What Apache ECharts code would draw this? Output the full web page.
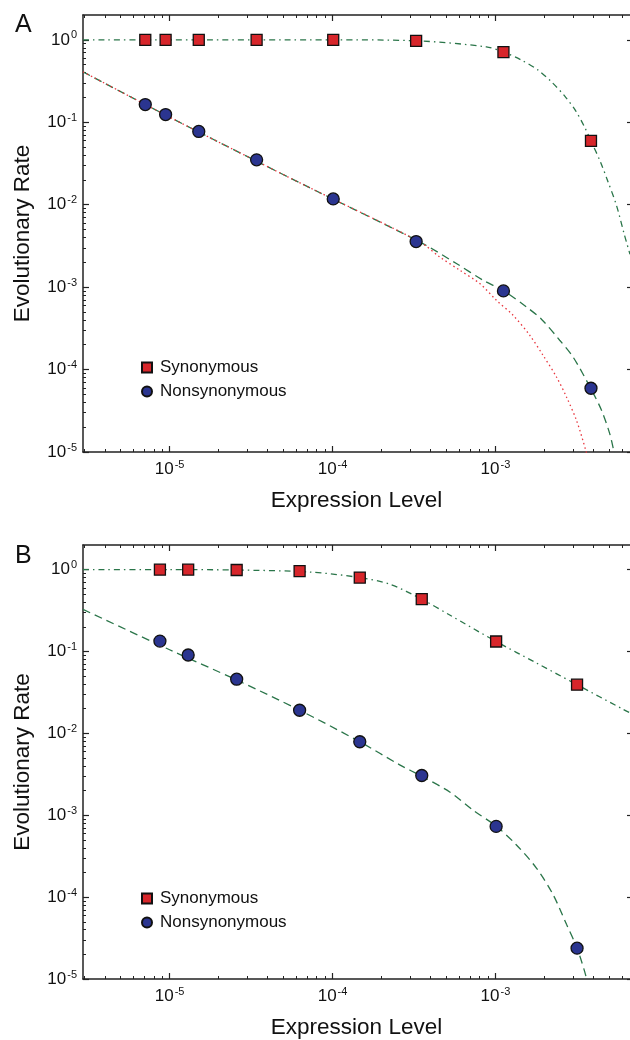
<!DOCTYPE html>
<html>
<head>
<meta charset="utf-8">
<script src="https://cdn.jsdelivr.net/npm/echarts@6/dist/echarts.min.js"></script>
<style>
html, body { margin: 0; padding: 0; background: #fff; }
#chart { width: 630px; height: 1040px; }
</style>
</head>
<body>
<div id="chart"></div>
<script>
// ---- panel A: measured points ----
var exprA = [7.09e-6, 9.45e-6, 1.51e-5, 3.42e-5, 1.01e-4, 3.26e-4, 1.12e-3, 3.86e-3];
var synRateA = [1.0, 1.0, 1.0, 1.0, 1.0, 0.973, 0.71, 0.0594];
var nonRateA = [0.164, 0.124, 0.0773, 0.035, 0.01175, 0.00357, 9.0e-4, 5.93e-5];

// panel A: fitted curves
var synFitExprA = [2.94e-6, 1e-5, 1e-4, 3.27e-4, 8.80e-4, 1.125e-3, 1.445e-3, 1.827e-3, 2.208e-3, 2.665e-3, 3.11e-3, 3.535e-3, 3.86e-3, 4.41e-3, 4.87e-3, 5.53e-3, 6.16e-3, 6.7e-3];
var synFitRateA = [1.0, 1.0, 1.0, 0.973, 0.822, 0.709, 0.567, 0.429, 0.309, 0.2074, 0.1375, 0.0865, 0.0595, 0.0331, 0.01983, 0.00986, 0.00447, 0.0025];
var nonFitExprA = [2.94e-6, 1e-5, 3.42e-5, 7.24e-5, 3.43e-4, 5.76e-4, 8.39e-4, 1.125e-3, 1.55e-3, 1.916e-3, 2.48e-3, 2.996e-3, 3.85e-3, 4.48e-3, 5.03e-3, 5.32e-3, 5.5e-3];
var nonFitRateA = [0.409, 0.1153, 0.0337, 0.01608, 3.54e-3, 1.934e-3, 1.213e-3, 9.0e-4, 5.75e-4, 4.08e-4, 2.27e-4, 1.42e-4, 5.88e-5, 3.21e-5, 1.67e-5, 1.05e-5, 8e-6];
var nonFit2ExprA = [2.94e-6, 1e-5, 3.42e-5, 7.24e-5, 3.43e-4, 4.55e-4, 6.04e-4, 8.01e-4, 1.014e-3, 1.283e-3, 1.624e-3, 1.96e-3, 2.37e-3, 2.73e-3, 3.145e-3, 3.585e-3, 3.7e-3];
var nonFit2RateA = [0.409, 0.1153, 0.0337, 0.01608, 3.54e-3, 2.325e-3, 1.603e-3, 1.106e-3, 6.93e-4, 4.56e-4, 2.61e-4, 1.49e-4, 8.13e-5, 4.65e-5, 2.42e-5, 1.05e-5, 8e-6];

// ---- panel B: measured points ----
var exprB = [8.72e-6, 1.30e-5, 2.58e-5, 6.28e-5, 1.47e-4, 3.53e-4, 1.01e-3, 3.17e-3];
var synRateB = [1.0, 1.0, 0.99, 0.96, 0.80, 0.436, 0.1325, 0.0393];
var nonRateB = [0.134, 0.0907, 0.0459, 0.01916, 0.0079, 0.00306, 7.31e-4, 2.38e-5];

// panel B: fitted curves
var synFitExprB = [2.94e-6, 1e-5, 2.58e-5, 7.24e-5, 1.47e-4, 2.244e-4, 3.53e-4, 5.24e-4, 1.01e-3, 1.785e-3, 3.17e-3, 6.07e-3, 6.7e-3];
var synFitRateB = [1.0, 1.0, 0.99, 0.935, 0.80, 0.664, 0.436, 0.279, 0.1325, 0.0725, 0.0393, 0.0197, 0.0178];
var nonFitExprB = [2.94e-6, 1e-5, 2.58e-5, 6.28e-5, 1.47e-4, 2.584e-4, 3.51e-4, 5.24e-4, 7.29e-4, 1.01e-3, 1.346e-3, 1.785e-3, 2.258e-3, 2.73e-3, 3.17e-3, 3.62e-3, 3.75e-3];
var nonFitRateB = [0.327, 0.105, 0.0449, 0.0192, 0.0079, 4.13e-3, 3.01e-3, 1.927e-3, 1.153e-3, 7.38e-4, 4.34e-4, 2.265e-4, 1.075e-4, 4.65e-5, 2.38e-5, 1.03e-5, 7e-6];

// axes
var xMin = 2.94e-6, xMax = 6.7e-3;
var yMin = 1e-5, yMax = 2;
var majorX = [1e-5, 1e-4, 1e-3];
var majorY = [1e-5, 1e-4, 1e-3, 1e-2, 1e-1, 1];
var minorMult = [2, 3, 4, 5, 6, 7, 8, 9];

var FONT = 'Liberation Sans, Arial, sans-serif';
var AX = '#222';
var RED = '#d7262b', BLUE = '#2b3590', GREEN = '#2a7549', DOTRED = '#e8343c';

function minorTicks(lo, hi) {
  var out = [];
  for (var e = -7; e <= 1; e++) {
    minorMult.forEach(function (m) {
      var v = m * Math.pow(10, e);
      if (v >= lo && v <= hi) out.push(v);
    });
  }
  return out;
}
var minorX = minorTicks(xMin, xMax);
var minorY = minorTicks(yMin, yMax * 0.999);

function zip(xs, ys) {
  return xs.map(function (x, i) { return [x, ys[i]]; });
}

var labelRich = {
  b: { fontSize: 17, lineHeight: 20, fontFamily: FONT, color: '#111' },
  s: { fontSize: 11, verticalAlign: 'top', fontFamily: FONT, color: '#111', padding: [0, 0, 0, 1] }
};
function powLabel(v) {
  return '{b|10}{s|' + Math.round(Math.log10(v)) + '}';
}
var nameStyle = { fontSize: 22.5, fontFamily: FONT, color: '#111' };

function tick(len, values, w) {
  return { show: true, inside: true, length: len, customValues: values, lineStyle: { color: AX, width: w } };
}

function xAxes(g) {
  var base = { type: 'log', gridIndex: g, min: xMin, max: xMax, splitLine: { show: false }, minorTick: { show: false } };
  return [
    Object.assign({}, base, {
      position: 'bottom',
      axisLine: { show: true, onZero: false, lineStyle: { color: AX, width: 1.5 } },
      axisTick: tick(6, majorX, 1.2),
      axisLabel: { customValues: majorX, formatter: powLabel, rich: labelRich, margin: 7 },
      name: 'Expression Level', nameLocation: 'middle', nameGap: 37, nameTextStyle: nameStyle
    }),
    Object.assign({}, base, {
      position: 'bottom',
      axisLine: { show: false },
      axisTick: tick(3, minorX, 1),
      axisLabel: { show: false }
    }),
    Object.assign({}, base, {
      position: 'top',
      axisLine: { show: true, onZero: false, lineStyle: { color: AX, width: 1.5 } },
      axisTick: tick(6, majorX, 1.2),
      axisLabel: { show: false }
    }),
    Object.assign({}, base, {
      position: 'top',
      axisLine: { show: false },
      axisTick: tick(3, minorX, 1),
      axisLabel: { show: false }
    })
  ];
}

function yAxes(g) {
  var base = { type: 'log', gridIndex: g, min: yMin, max: yMax, splitLine: { show: false }, minorTick: { show: false } };
  return [
    Object.assign({}, base, {
      position: 'left',
      axisLine: { show: true, onZero: false, lineStyle: { color: AX, width: 1.5 } },
      axisTick: tick(6, majorY, 1.2),
      axisLabel: { customValues: majorY, formatter: powLabel, rich: labelRich, margin: 6 },
      name: 'Evolutionary Rate', nameLocation: 'middle', nameGap: 49, nameTextStyle: nameStyle
    }),
    Object.assign({}, base, {
      position: 'left',
      axisLine: { show: false },
      axisTick: tick(3, minorY, 1),
      axisLabel: { show: false }
    }),
    Object.assign({}, base, {
      position: 'right',
      axisLine: { show: false },
      axisTick: tick(3, majorY, 1.2),
      axisLabel: { show: false }
    })
  ];
}

function panelSeries(xi, yi, expr, synRate, nonRate, fits) {
  var list = fits.map(function (f) {
    return {
      name: f.name, type: 'line', xAxisIndex: xi, yAxisIndex: yi,
      data: zip(f.x, f.y), showSymbol: false, smooth: 0.3, silent: true, z: f.z || 2,
      lineStyle: { color: f.color, width: 1.3, type: f.dash }
    };
  });
  list.push({
    name: 'Synonymous', type: 'scatter', xAxisIndex: xi, yAxisIndex: yi, z: 5,
    symbol: 'rect', symbolSize: 11, data: zip(expr, synRate),
    itemStyle: { color: RED, borderColor: '#111', borderWidth: 1.3, opacity: 1 }
  });
  list.push({
    name: 'Nonsynonymous', type: 'scatter', xAxisIndex: xi, yAxisIndex: yi, z: 5,
    symbol: 'circle', symbolSize: 12, data: zip(expr, nonRate),
    itemStyle: { color: BLUE, borderColor: '#111', borderWidth: 1.3, opacity: 1 }
  });
  return list;
}

var DASHDOT = [6, 4, 1.5, 4];
var DASHED = [8, 5];
var DOTTED = [1.5, 3];

var seriesA = panelSeries(0, 0, exprA, synRateA, nonRateA, [
  { name: 'synFitA', x: synFitExprA, y: synFitRateA, color: GREEN, dash: DASHDOT },
  { name: 'nonFitA', x: nonFitExprA, y: nonFitRateA, color: GREEN, dash: DASHED },
  { name: 'nonFit2A', x: nonFit2ExprA, y: nonFit2RateA, color: DOTRED, dash: DOTTED, z: 3 }
]);
var seriesB = panelSeries(4, 3, exprB, synRateB, nonRateB, [
  { name: 'synFitB', x: synFitExprB, y: synFitRateB, color: GREEN, dash: DASHDOT },
  { name: 'nonFitB', x: nonFitExprB, y: nonFitRateB, color: GREEN, dash: DASHED }
]);

function legendAt(top) {
  return {
    left: 136, top: top, orient: 'vertical', itemWidth: 10, itemHeight: 10, itemGap: 7,
    selectedMode: false,
    data: [{ name: 'Synonymous', icon: 'rect' }, { name: 'Nonsynonymous', icon: 'circle' }],
    textStyle: { fontSize: 17, fontFamily: FONT, color: '#111', padding: [0, 0, 0, 3] }
  };
}

var chart = echarts.init(document.getElementById('chart'), null, { renderer: 'canvas' });
chart.setOption({
  animation: false,
  backgroundColor: '#fff',
  title: [
    { text: 'A', left: 10, top: 8, textStyle: { fontSize: 25, fontWeight: 'normal', fontFamily: FONT, color: '#111' } },
    { text: 'B', left: 10, top: 539, textStyle: { fontSize: 25, fontWeight: 'normal', fontFamily: FONT, color: '#111' } }
  ],
  legend: [legendAt(354), legendAt(885)],
  grid: [
    { left: 83, right: 0, top: 15, height: 437 },
    { left: 83, right: 0, top: 545, height: 437 }
  ],
  xAxis: xAxes(0).concat(xAxes(1)),
  yAxis: yAxes(0).concat(yAxes(1)),
  series: seriesA.concat(seriesB)
});
</script>
</body>
</html>
